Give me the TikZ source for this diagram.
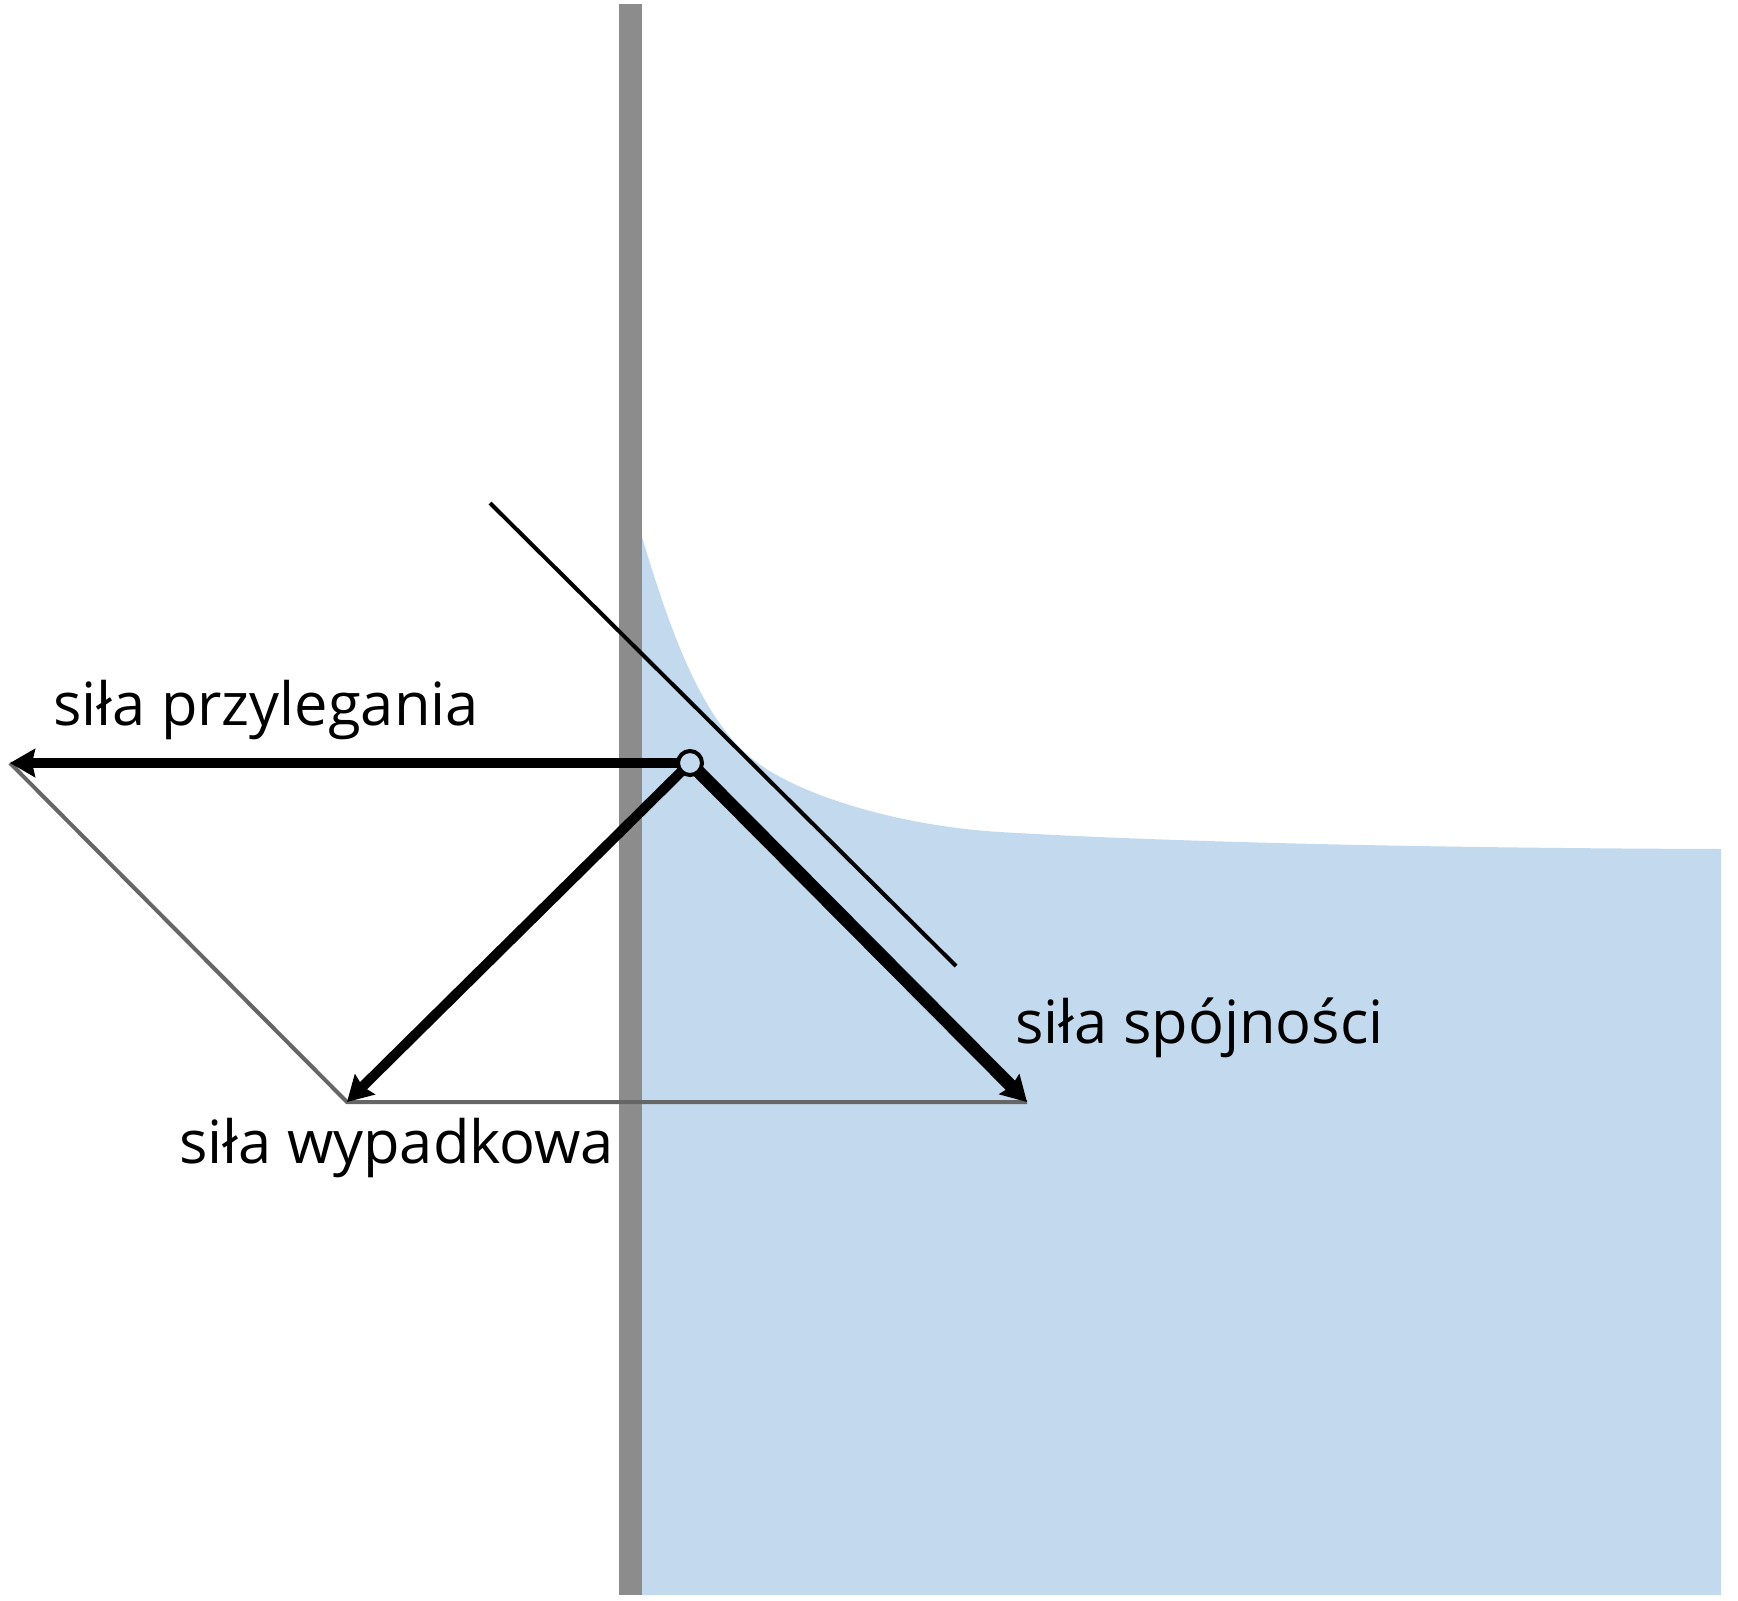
\documentclass[tikz,border=0pt]{standalone}
\usepackage{fontspec}
\setmainfont{Open Sans}
\usepackage{tikz}
\usetikzlibrary{arrows.meta, positioning, calc}
\definecolor{water}{HTML}{C3DAEE}
\definecolor{wallgray}{HTML}{8C8C8C}
\definecolor{helpergray}{HTML}{666666}
\tikzset{
    force/.style={-{Stealth[length=12.5pt, width=14pt, inset=1.5pt]}, line width=#1},
    helper/.style={draw=helpergray, line width=2pt},
    tangent/.style={draw=black, line width=2pt},
    dot/.style={circle, draw, fill=water, line width=2pt, minimum size=12pt, inner sep=0pt},
    label/.style={anchor=base west, inner sep=0pt, font=\fontsize{29.8}{36}\selectfont}
}
\begin{document}
\begin{tikzpicture}[x=0.5pt, y=-0.5pt]
  \useasboundingbox (0,0) rectangle (1738,1600);
  % liquid with meniscus
  \fill[water] (642,537) .. controls (670,630) and (700,715) .. (750,757)
    .. controls (795,795) and (900,826) .. (1000,832)
    .. controls (1150,841) and (1400,848) .. (1721,849)
    -- (1721,1595) -- (642,1595) -- cycle;
  % wall
  \fill[wallgray] (619,4) rectangle (642,1595);
  \coordinate (p) at (690,763);
  \coordinate (a) at (10,763);
  \coordinate (c) at (1027,1102);
  \coordinate (r) at ($(a)+(c)-(p)$);
  \coordinate (t1) at (490,503);
  \coordinate (t2) at (956,966);
  \draw[tangent] (t1) -- (t2);
  \draw[helper] (a) -- (r) -- (c);
  \draw[force=5pt] (p) -- (a);
  \draw[force=5pt] (p) -- (r);
  \draw[force=6.5pt] (p) -- (c);
  \node[dot] (pt) at (p) {};
  \node[label] (adh) at (53,725) {siła przylegania};
  \node[label] (coh) at (1015,1043) {siła spójności};
  \node[label] (res) at (179,1163) {siła wypadkowa};
\end{tikzpicture}
\end{document}
